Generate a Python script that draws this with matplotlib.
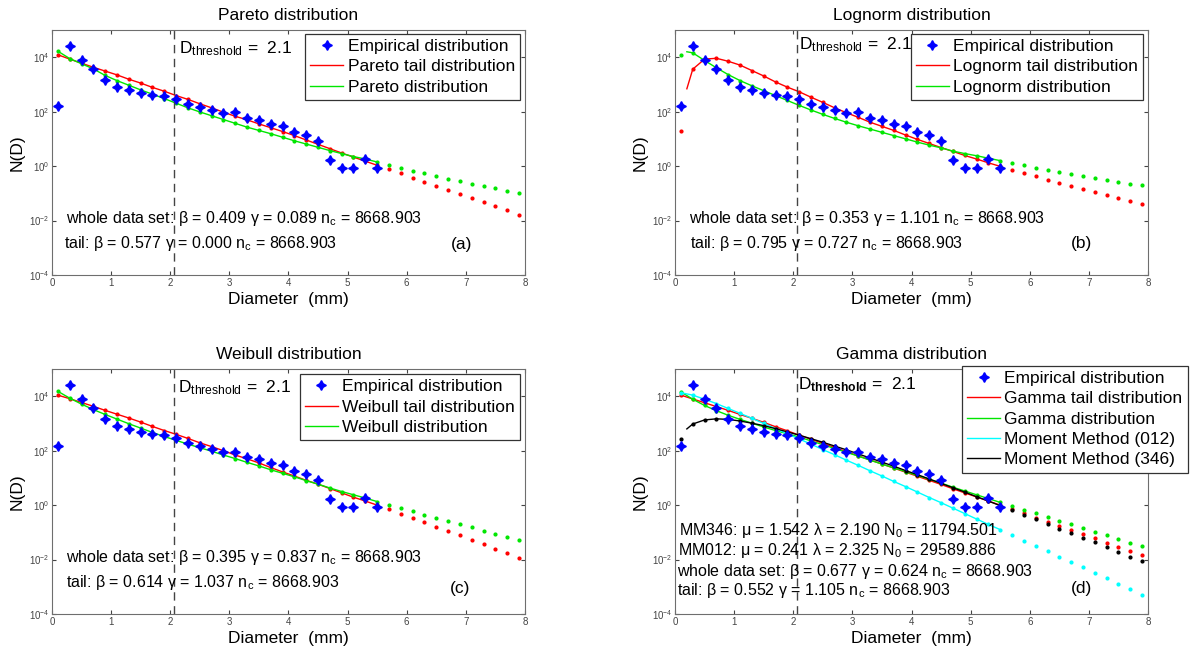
import numpy as np
import matplotlib.pyplot as plt
from matplotlib.ticker import FixedLocator, FuncFormatter

plt.rcParams['font.family'] = ['Liberation Sans', 'DejaVu Sans']
plt.rcParams['mathtext.fontset'] = 'custom'
plt.rcParams['mathtext.rm'] = 'Liberation Sans'
plt.rcParams['mathtext.it'] = 'Liberation Sans:italic'
plt.rcParams['mathtext.bf'] = 'Liberation Sans:bold'

# bin centres (mm); fitted lines are drawn up to 5.5 mm, dots only beyond
diameter = [0.1, 0.3, 0.5, 0.7, 0.9, 1.1, 1.3, 1.5, 1.7, 1.9,
            2.1, 2.3, 2.5, 2.7, 2.9, 3.1, 3.3, 3.5, 3.7, 3.9,
            4.1, 4.3, 4.5, 4.7, 4.9, 5.1, 5.3, 5.5, 5.7, 5.9,
            6.1, 6.3, 6.5, 6.7, 6.9, 7.1, 7.3, 7.5, 7.7, 7.9]
n_fit = 28
d_threshold = 2.06

# all values below are log10 N(D)
empirical = [2.19, 4.40, 3.90, 3.55, 3.17, 2.90, 2.79, 2.69, 2.60, 2.57,
             2.46, 2.29, 2.17, 2.05, 1.96, 1.97, 1.76, 1.68, 1.53, 1.48,
             1.26, 1.16, 0.92, 0.23, -0.07, -0.07, 0.27, -0.07]

pareto_tail = [4.09, 3.93, 3.78, 3.63, 3.49, 3.35, 3.19, 3.05, 2.89, 2.75,
               2.59, 2.45, 2.29, 2.14, 1.98, 1.83, 1.70, 1.55, 1.41, 1.27,
               1.12, 0.96, 0.80, 0.64, 0.48, 0.33, 0.18, 0.03, -0.12, -0.27,
               -0.43, -0.57, -0.73, -0.88, -1.04, -1.18, -1.33, -1.48, -1.62, -1.78]
pareto_whole = [4.22, 3.95, 3.76, 3.57, 3.33, 3.14, 2.97, 2.80, 2.64, 2.48,
                2.31, 2.14, 1.99, 1.85, 1.71, 1.57, 1.43, 1.31, 1.19, 1.06,
                0.93, 0.81, 0.69, 0.57, 0.46, 0.35, 0.26, 0.15, 0.05, -0.07,
                -0.17, -0.27, -0.37, -0.46, -0.56, -0.65, -0.73, -0.82, -0.91, -1.00]

logn_tail = [1.28, 3.56, 3.93, 3.96, 3.85, 3.71, 3.51, 3.31, 3.09, 2.90,
             2.73, 2.53, 2.34, 2.14, 1.96, 1.79, 1.61, 1.46, 1.31, 1.14,
             0.98, 0.83, 0.68, 0.54, 0.39, 0.26, 0.12, -0.01, -0.14, -0.26,
             -0.38, -0.50, -0.62, -0.73, -0.85, -0.96, -1.08, -1.19, -1.30, -1.41]
logn_tail_start = (0.2, 2.84)
logn_whole = [4.09, 4.16, 3.88, 3.61, 3.36, 3.14, 2.95, 2.77, 2.59, 2.41,
              2.23, 2.06, 1.90, 1.75, 1.61, 1.48, 1.36, 1.24, 1.12, 1.00,
              0.88, 0.77, 0.67, 0.55, 0.46, 0.38, 0.29, 0.20, 0.11, 0.03,
              -0.06, -0.13, -0.20, -0.28, -0.35, -0.43, -0.50, -0.58, -0.65, -0.71]
logn_whole_start = (0.2, 4.20)

weibull_tail = [4.04, 3.91, 3.77, 3.63, 3.48, 3.34, 3.20, 3.05, 2.89, 2.74,
                2.60, 2.45, 2.29, 2.15, 2.00, 1.84, 1.70, 1.55, 1.38, 1.22,
                1.07, 0.91, 0.77, 0.61, 0.45, 0.29, 0.15, 0.00, -0.16, -0.32,
                -0.48, -0.63, -0.79, -0.95, -1.11, -1.27, -1.44, -1.60, -1.77, -1.94]
weibull_whole = [4.18, 3.93, 3.71, 3.51, 3.33, 3.16, 2.99, 2.83, 2.67, 2.52,
                 2.38, 2.24, 2.11, 1.98, 1.84, 1.71, 1.57, 1.44, 1.30, 1.17,
                 1.04, 0.90, 0.77, 0.63, 0.50, 0.38, 0.26, 0.13, 0.01, -0.11,
                 -0.23, -0.35, -0.47, -0.59, -0.70, -0.82, -0.94, -1.05, -1.17, -1.29]

gamma_tail = [4.04, 3.90, 3.76, 3.62, 3.48, 3.33, 3.19, 3.04, 2.88, 2.73,
              2.57, 2.42, 2.27, 2.12, 1.96, 1.81, 1.66, 1.51, 1.36, 1.21,
              1.06, 0.91, 0.76, 0.60, 0.45, 0.30, 0.15, 0.00, -0.15, -0.30,
              -0.46, -0.61, -0.76, -0.92, -1.07, -1.22, -1.38, -1.53, -1.69, -1.84]
gamma_whole = [4.16, 3.89, 3.66, 3.47, 3.30, 3.15, 3.01, 2.87, 2.74, 2.62,
               2.50, 2.36, 2.22, 2.08, 1.94, 1.80, 1.65, 1.51, 1.37, 1.23,
               1.09, 0.95, 0.81, 0.66, 0.52, 0.38, 0.24, 0.10, -0.04, -0.17,
               -0.30, -0.44, -0.58, -0.71, -0.84, -0.98, -1.11, -1.24, -1.38, -1.51]
mm012 = [4.13, 4.04, 3.89, 3.73, 3.55, 3.37, 3.19, 3.00, 2.81, 2.62,
         2.43, 2.24, 2.04, 1.85, 1.65, 1.46, 1.26, 1.07, 0.87, 0.68,
         0.48, 0.28, 0.09, -0.11, -0.31, -0.51, -0.71, -0.90, -1.10, -1.30,
         -1.50, -1.70, -1.90, -2.10, -2.29, -2.49, -2.69, -2.89, -3.09, -3.29]
mm346 = [2.43, 2.98, 3.13, 3.17, 3.15, 3.09, 3.01, 2.92, 2.81, 2.69,
         2.57, 2.44, 2.31, 2.17, 2.03, 1.88, 1.73, 1.58, 1.43, 1.27,
         1.12, 0.96, 0.80, 0.64, 0.48, 0.31, 0.15, -0.02, -0.18, -0.35,
         -0.52, -0.69, -0.86, -1.03, -1.20, -1.37, -1.54, -1.71, -1.89, -2.06]
mm346_start = (0.2, 2.80)

RED, GREEN, CYAN, BLUE = '#ff0000', '#00e600', '#00ffff', '#0000ff'
AX_GRAY = '#6e6e6e'


def log_label(v, pos):
    return r'$10^{%d}$' % int(round(np.log10(v)))


def draw_panel(ax, title, curves, notes, letter, letter_y, thr_y, thr_bold=False):
    handles = []
    for label, color, vals, start in curves:
        vals = np.power(10.0, vals)
        if start is None:
            lx, ly = diameter[:n_fit], vals[:n_fit]
        else:
            lx = [start[0]] + diameter[1:n_fit]
            ly = [10 ** start[1]] + list(vals[1:n_fit])
        h, = ax.plot(lx, ly, '-', color=color, lw=1.0, label=label)
        ax.plot(diameter, vals, '.', color=color, ms=4)
        handles.append(h)
    emp, = ax.plot(diameter[:n_fit], np.power(10.0, empirical), linestyle='none',
                   marker=(4, 1, 0), color=BLUE, ms=7, zorder=5,
                   label='Empirical distribution')
    handles.insert(0, emp)

    ax.axvline(d_threshold, color='#444444', lw=1.0, ls=(0, (6, 4)))
    ax.set_yscale('log')
    ax.set_xlim(0, 8)
    ax.set_ylim(1e-4, 1e5)
    ax.xaxis.set_major_locator(FixedLocator(range(9)))
    ax.yaxis.set_major_locator(FixedLocator([1e-4, 1e-2, 1, 1e2, 1e4]))
    ax.yaxis.set_minor_locator(FixedLocator([]))
    ax.yaxis.set_major_formatter(FuncFormatter(log_label))
    ax.tick_params(direction='in', top=True, right=True, length=3, width=0.8,
                   labelsize=7, colors='#444444', pad=2)
    for s in ax.spines.values():
        s.set_color(AX_GRAY)

    ax.set_title(title, fontsize=12.5, pad=7)
    ax.set_xlabel('Diameter  (mm)', fontsize=12.5, labelpad=3)
    ax.set_ylabel('N(D)', fontsize=12.5, labelpad=3)

    sub = r'\mathbf{threshold}' if thr_bold else r'\mathrm{threshold}'
    ax.text(thr_y[0], 10 ** thr_y[1], r'D$_{%s}$ =  2.1' % sub, fontsize=12.5)
    for x, y, s in notes:
        ax.text(x, 10 ** y, s, fontsize=11.5)
    ax.text(letter_y[0], 10 ** letter_y[1], letter, fontsize=12.5)
    return handles


fig = plt.figure(figsize=(11.92, 6.49), dpi=100)
W, H = 0.3968, 0.3775
ax_a = fig.add_axes([0.0436, 0.5763, W, H])
ax_b = fig.add_axes([0.5663, 0.5763, W, H])
ax_c = fig.add_axes([0.0436, 0.0539, W, H])
ax_d = fig.add_axes([0.5663, 0.0539, W, H])

nc = r' n$_\mathrm{c}$ = 8668.903'
leg_kw = dict(fontsize=12.5, fancybox=False, framealpha=1, edgecolor='#333333',
              handlelength=1.9, handletextpad=0.25, labelspacing=0.3,
              borderpad=0.3, borderaxespad=0, loc='upper right')

h = draw_panel(ax_a, 'Pareto distribution',
               [('Pareto tail distribution', RED, pareto_tail, None),
                ('Pareto distribution', GREEN, pareto_whole, None)],
               [(0.23, -2.1, 'whole data set: β = 0.409 γ = 0.089' + nc),
                (0.21, -3.0, 'tail: β = 0.577 γ = 0.000' + nc)],
               '(a)', (6.75, -3.05), (2.15, 4.15))
leg = ax_a.legend(handles=h, bbox_to_anchor=(0.99, 0.985), **leg_kw)
leg.get_frame().set_linewidth(0.9)

h = draw_panel(ax_b, 'Lognorm distribution',
               [('Lognorm tail distribution', RED, logn_tail, logn_tail_start),
                ('Lognorm distribution', GREEN, logn_whole, logn_whole_start)],
               [(0.235, -2.1, 'whole data set: β = 0.353 γ = 1.101' + nc),
                (0.25, -3.0, 'tail: β = 0.795 γ = 0.727' + nc)],
               '(b)', (6.69, -3.0), (2.10, 4.3))
leg = ax_b.legend(handles=h, bbox_to_anchor=(0.99, 0.985), **leg_kw)
leg.get_frame().set_linewidth(0.9)

h = draw_panel(ax_c, 'Weibull distribution',
               [('Weibull tail distribution', RED, weibull_tail, None),
                ('Weibull distribution', GREEN, weibull_whole, None)],
               [(0.23, -2.1, 'whole data set: β = 0.395 γ = 0.837' + nc),
                (0.23, -3.0, 'tail: β = 0.614 γ = 1.037' + nc)],
               '(c)', (6.73, -3.22), (2.13, 4.15))
leg = ax_c.legend(handles=h, bbox_to_anchor=(0.99, 0.98), **leg_kw)
leg.get_frame().set_linewidth(0.9)

h = draw_panel(ax_d, 'Gamma distribution',
               [('Gamma tail distribution', RED, gamma_tail, None),
                ('Gamma distribution', GREEN, gamma_whole, None),
                ('Moment Method (012)', CYAN, mm012, None),
                ('Moment Method (346)', 'black', mm346, mm346_start)],
               [(0.06, -1.09, r'MM346: μ = 1.542 λ = 2.190 N$_\mathrm{0}$ = 11794.501'),
                (0.045, -1.83, r'MM012: μ = 0.241 λ = 2.325 N$_\mathrm{0}$ = 29589.886'),
                (0.03, -2.61, 'whole data set: β = 0.677 γ = 0.624' + nc),
                (0.03, -3.31, 'tail: β = 0.552 γ = 1.105' + nc)],
               '(d)', (6.70, -3.22), (2.08, 4.25), thr_bold=True)
leg = ax_d.legend(handles=h, bbox_to_anchor=(1.084, 1.014), **leg_kw)
leg.get_frame().set_linewidth(0.9)

fig.savefig('out.png', dpi=100)
